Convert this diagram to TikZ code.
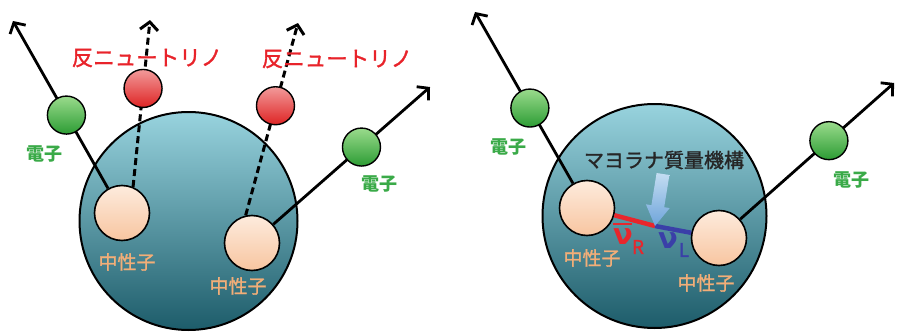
\documentclass[tikz,border=0pt]{standalone}
\usepackage{fontspec}
\setmainfont{Noto Sans CJK JP}
\newfontfamily\jpsemi[FakeBold=1.4]{Noto Sans CJK JP}
\newfontfamily\grk{DejaVu Sans}
\usetikzlibrary{arrows.meta,calc}

\definecolor{nucTop}{HTML}{98D3DE}
\definecolor{nucMid}{HTML}{4F9DAC}
\definecolor{nucBot}{HTML}{1D5C6A}
\definecolor{neuTop}{HTML}{FDEBDD}
\definecolor{neuBot}{HTML}{F8C5A0}
\definecolor{eleTop}{HTML}{9ADB8C}
\definecolor{eleBot}{HTML}{2C9C34}
\definecolor{anuTop}{HTML}{F29A9A}
\definecolor{anuBot}{HTML}{DE2424}
\definecolor{eleText}{HTML}{3AAA48}
\definecolor{neuText}{HTML}{F2AE78}
\definecolor{anuText}{HTML}{E8232A}
\definecolor{nuR}{HTML}{E8262C}
\definecolor{nuL}{HTML}{3A3FA8}
\definecolor{hintTop}{HTML}{C4DDF2}
\definecolor{hintBot}{HTML}{6EA4DA}

\begin{document}
\begin{tikzpicture}[x=1pt,y=-1pt,
  nucleus/.style={circle, draw=black, line width=2pt, minimum size=218pt,
    inner sep=0pt, top color=nucTop, middle color=nucMid, bottom color=nucBot},
  neutron/.style={circle, draw=black, line width=1.6pt, minimum size=55pt,
    inner sep=0pt, top color=neuTop, bottom color=neuBot},
  electron/.style={circle, draw=black, line width=1.4pt, minimum size=38pt,
    inner sep=0pt, top color=eleTop, bottom color=eleBot},
  antinu/.style={circle, draw=black, line width=1.4pt, minimum size=38pt,
    inner sep=0pt, top color=anuTop, bottom color=anuBot},
  track/.style={line width=2.8pt, -{Straight Barb[length=8pt,width=18pt]}},
  dtrack/.style={line width=3pt, dash pattern=on 7pt off 4pt,
    -{Straight Barb[length=8pt,width=18pt]}},
  elabel/.style={text=eleText, font=\bfseries\fontsize{18}{18}\selectfont},
  nlabel/.style={text=neuText, font=\jpsemi\fontsize{19}{19}\selectfont},
  alabel/.style={text=anuText, font=\jpsemi\fontsize{21.5}{21.5}\selectfont},
  mlabel/.style={text=black!85, font=\jpsemi\fontsize{20}{20}\selectfont},
  nusym/.style={inner sep=0pt, font=\grk\bfseries\fontsize{29}{29}\selectfont},
  nusub/.style={inner sep=0pt, font=\jpsemi\fontsize{19}{19}\selectfont}
]
\useasboundingbox (0,0) rectangle (897,332);

% ---------- double beta decay with two antineutrinos ----------
\node[nucleus] (A) at (188.5,221) {};
\node[neutron] (N1) at (122,213) {};
\node[neutron] (N2) at (252,243) {};

\coordinate (t1) at (13,21);
\coordinate (t2) at (150,20);
\coordinate (t3) at (298,23);
\coordinate (t4) at (430,87);

\draw[track]  (N1) -- (t1);
\draw[dtrack] (N1.67) -- (t2);
\draw[dtrack] (N2.103) -- (t3);
\draw[track]  (N2) -- (t4);

\node[electron] (E1) at ($(N1)!0.51!(t1)$) {};
\node[antinu]   (R1) at ($(N1.67)!0.59!(t2)$) {};
\node[antinu]   (R2) at ($(N2.103)!0.57!(t3)$) {};
\node[electron] (E2) at ($(N2)!0.615!(t4)$) {};

\node[alabel] (aL1) at (147,58) {反ニュートリノ};
\node[alabel] (aL2) at (337,59) {反ニュートリノ};
\node[elabel] (eL1) at (44,154) {電子};
\node[elabel] (eL2) at (379,184) {電子};
\node[nlabel] (nL1) at (127,262) {中性子};
\node[nlabel] (nL2) at (238,286) {中性子};

% ---------- neutrinoless double beta decay ----------
\node[nucleus, minimum size=224pt] (B) at (654.5,216) {};
\node[neutron] (N3) at (587,208) {};
\node[neutron] (N4) at (719,238) {};

\coordinate (t5) at (475,12);
\coordinate (t6) at (894,83);
\coordinate (mid) at (655,226);

\draw[track] (N3) -- (t5);
\draw[track] (N4) -- (t6);
\draw[nuR, line width=4.5pt] (N3) -- (mid);
\draw[nuL, line width=4.5pt] (mid) -- (N4);

\node[electron] (E3) at ($(N3)!0.51!(t5)$) {};
\node[electron] (E4) at ($(N4)!0.628!(t6)$) {};

% hint arrow pointing at the vertex
\shade[top color=hintTop, bottom color=hintBot]
  (656.6,173) -- (669.4,175) -- (664.2,207.2) -- (669.7,208.1)
  -- (mid) -- (645.9,204.3) -- (651.4,205.2) -- cycle;

\node[mlabel] (mL) at (664,160) {マヨラナ質量機構};
\node[elabel] (eL3) at (508,147) {電子};
\node[elabel] (eL4) at (851,180) {電子};
\node[nlabel] (nL3) at (592,258) {中性子};
\node[nlabel] (nL4) at (706,283) {中性子};

% neutrino labels; the bar over the right-handed one
\node[nusym, text=nuR] (nuRs) at (623,237) {ν};
\node[nusub, text=nuR] (nuRi) at (638,247) {R};
\coordinate (barL) at (613,224);
\coordinate (barR) at (632,224);
\draw[nuR, line width=2.4pt] (barL) -- (barR);
\node[nusym, text=nuL] (nuLs) at (668,241) {ν};
\node[nusub, text=nuL] (nuLi) at (684,250) {L};
\end{tikzpicture}
\end{document}
